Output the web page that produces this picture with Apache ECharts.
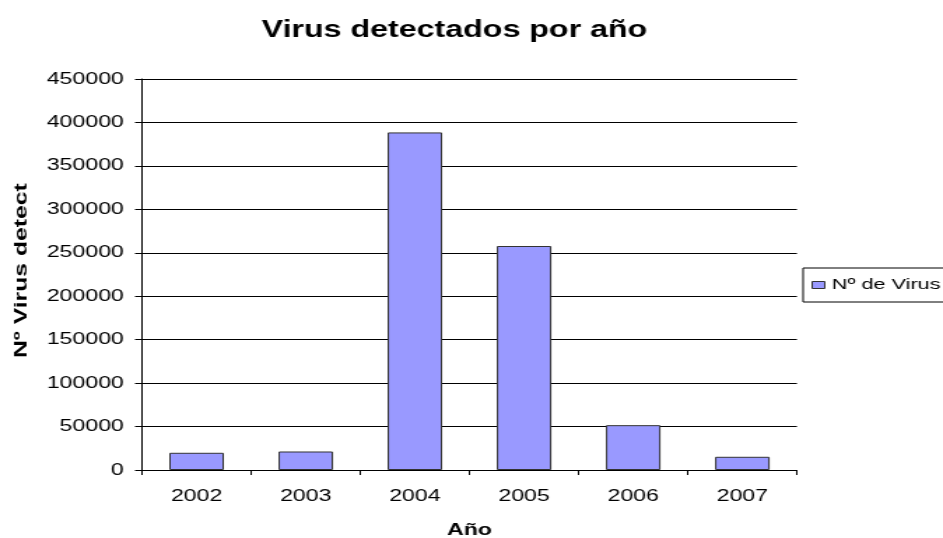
<!DOCTYPE html>
<html>
<head>
<meta charset="utf-8">
<script src="https://cdn.jsdelivr.net/npm/echarts@6/dist/echarts.min.js"></script>
<style>
  html, body { margin: 0; padding: 0; background: #fff; overflow: hidden; }
  /* el grafico original esta estirado en horizontal */
  #main { width: 674px; height: 538px; transform: scaleX(1.3991); transform-origin: 0 0; }
</style>
</head>
<body>
<div id="main"></div>
<script>
// datos
var years = ['2002', '2003', '2004', '2005', '2006', '2007'];
var virusCount = [19800, 21300, 388500, 257800, 51600, 15200];
var yTicks = [0, 50000, 100000, 150000, 200000, 250000, 300000, 350000, 400000, 450000];

var chartDom = document.getElementById('main');
var myChart = echarts.init(chartDom);
var font = 'Liberation Sans, Arial, sans-serif';
var option;

option = {
  animation: false,
  backgroundColor: '#fff',
  title: {
    text: 'Virus detectados por año',
    left: 182,
    top: 14,
    textStyle: { fontFamily: font, fontSize: 23, fontWeight: 'bold', color: '#000' }
  },
  legend: {
    left: 574,
    top: 268,
    orient: 'vertical',
    itemWidth: 9,
    itemHeight: 7,
    padding: [9, 40, 9, 6],
    borderColor: '#000',
    borderWidth: 1,
    icon: 'rect',
    itemStyle: { borderColor: '#333', borderWidth: 1 },
    textStyle: { fontFamily: font, fontSize: 15.5, color: '#000' },
    data: ['Nº de Virus']
  },
  // titulo del eje Y (recortado en el original)
  graphic: [
    {
      type: 'text',
      x: 15.5,
      y: 358,
      rotation: Math.PI / 2,
      scaleX: 1.9,
      style: {
        text: 'Nº Virus detect',
        fontFamily: font,
        fontSize: 13,
        fontWeight: 'bold',
        fill: '#000',
        align: 'left',
        verticalAlign: 'middle'
      }
    }
  ],
  grid: { left: 101.5, right: 104.4, top: 79, bottom: 68, outerBoundsMode: 'none' },
  xAxis: {
    type: 'category',
    data: years,
    name: 'Año',
    nameLocation: 'middle',
    nameGap: 52,
    nameTextStyle: { fontFamily: font, fontSize: 16.5, fontWeight: 'bold', color: '#000' },
    axisLine: { lineStyle: { color: '#000', width: 1 } },
    axisTick: { show: true, length: 5, lineStyle: { color: '#000' } },
    axisLabel: { fontFamily: font, fontSize: 16.5, color: '#000', margin: 18 }
  },
  yAxis: {
    type: 'value',
    min: yTicks[0],
    max: yTicks[yTicks.length - 1],
    interval: yTicks[1] - yTicks[0],
    axisLine: { show: true, lineStyle: { color: '#000', width: 1 } },
    axisTick: { show: true, length: 5, lineStyle: { color: '#000' } },
    axisLabel: {
      fontFamily: font,
      fontSize: 16.5,
      color: '#000',
      margin: 13,
      formatter: function (v) { return String(v); }
    },
    splitLine: { show: true, lineStyle: { color: '#000', width: 1 } }
  },
  series: [
    {
      name: 'Nº de Virus',
      type: 'bar',
      data: virusCount,
      barWidth: '50%',
      itemStyle: { color: '#9999ff', borderColor: '#333', borderWidth: 1 }
    }
  ]
};

option && myChart.setOption(option);
</script>
</body>
</html>
